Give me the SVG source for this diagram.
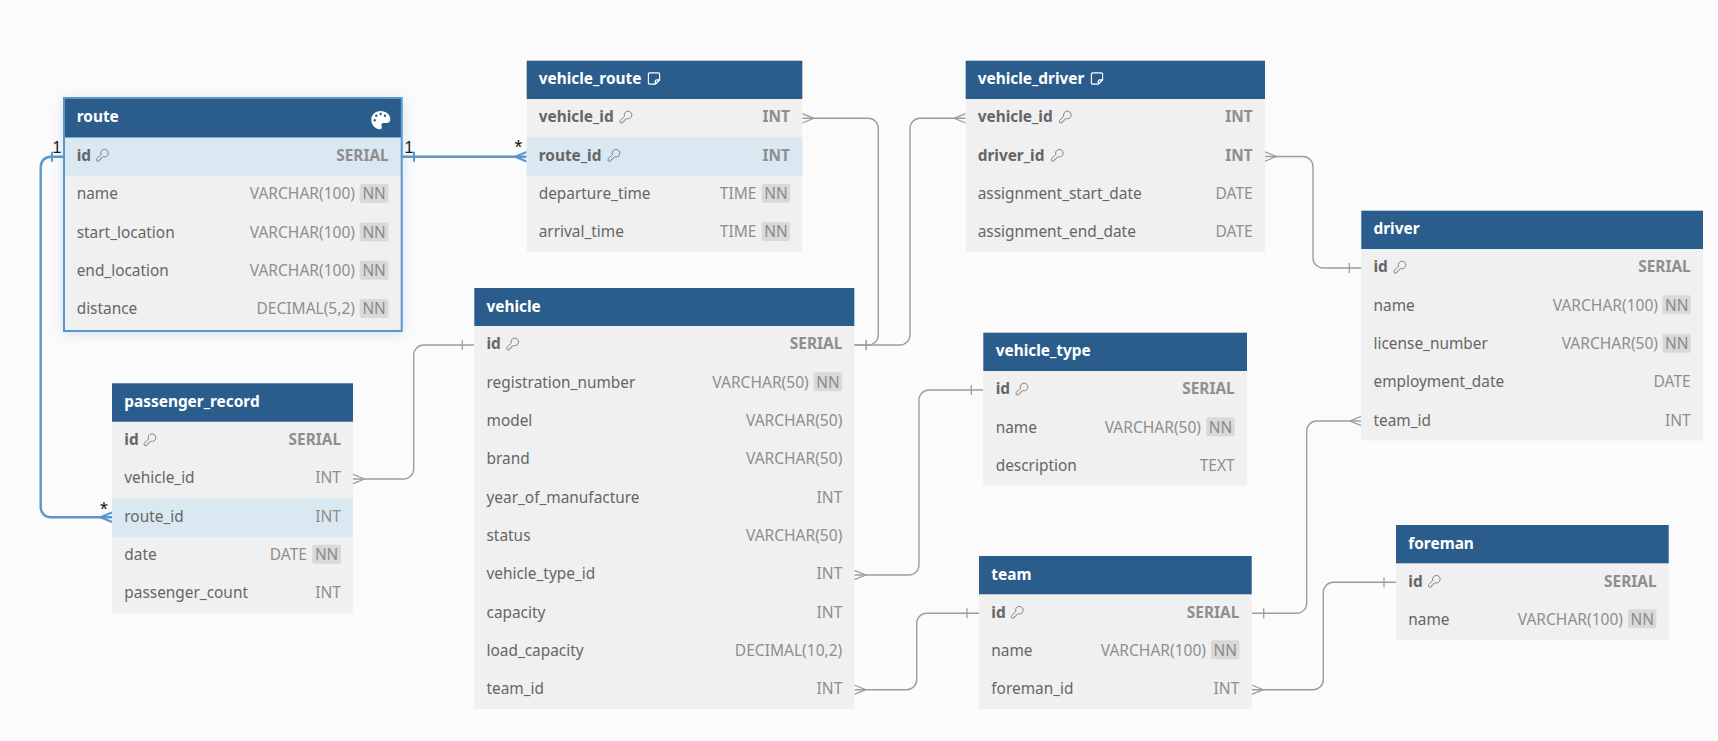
<svg xmlns="http://www.w3.org/2000/svg" width="1718" height="741" viewBox="0 0 1718 741">
<style>
text{font-family:"Noto Sans","Open Sans","Liberation Sans",sans-serif;font-size:15.4px}
.bg{fill:#fbfbfb}
.b{fill:#f0f0f0}
.h{fill:#2a5d8c}
.hl{fill:#d9e8f1}
.ti{fill:#fff;font-weight:700}
.n{fill:#666}
.k{fill:#666;font-weight:700}
.t{fill:#8e8e8e;text-anchor:end;font-size:15.55px}
.tk{fill:#8e8e8e;font-weight:700;text-anchor:end}
.nn{fill:#d9d9d9}
.nt{fill:#8a8a8a;text-anchor:middle}
.c{fill:none;stroke:#9c9ca8;stroke-width:1.4}
.cb{fill:none;stroke:#5b96cc;stroke-width:2.4}
.lb{fill:#111;font-family:"Liberation Sans",sans-serif;font-size:16px}
.st{font-size:20px}
</style>
<defs>
<filter id="glow" x="-15%" y="-20%" width="130%" height="140%"><feDropShadow dx="0" dy="2" stdDeviation="7" flood-color="#5b96cc" flood-opacity=".3"/></filter>
<marker id="crow" markerUnits="userSpaceOnUse" viewBox="-2 -8 18 16" markerWidth="18" markerHeight="16" refX="0" refY="0" orient="auto"><path d="M0-4.7L11.500 0L0 4.700" fill="none" stroke="#9c9ca8" stroke-width="1.3"/></marker>
<marker id="tick" markerUnits="userSpaceOnUse" viewBox="-16 -8 18 16" markerWidth="18" markerHeight="16" refX="0" refY="0" orient="auto"><path d="M-12-5V5" fill="none" stroke="#9c9ca8" stroke-width="1.3"/></marker>
<marker id="crowb" markerUnits="userSpaceOnUse" viewBox="-2 -8 18 16" markerWidth="18" markerHeight="16" refX="0" refY="0" orient="auto"><path d="M0-4.7L11.500 0L0 4.700" fill="none" stroke="#5b96cc" stroke-width="2.2"/></marker>
<marker id="tickb" markerUnits="userSpaceOnUse" viewBox="-16 -8 18 16" markerWidth="18" markerHeight="16" refX="0" refY="0" orient="auto"><path d="M-12-5V5" fill="none" stroke="#5b96cc" stroke-width="2"/></marker>
<symbol id="key" viewBox="0 0 24 24" width="14" height="14"><path d="M2.586 17.414A2 2 0 0 0 2 18.828V21a1 1 0 0 0 1 1h3a1 1 0 0 0 1-1v-1a1 1 0 0 1 1-1h1a1 1 0 0 0 1-1v-1a1 1 0 0 1 1-1h.172a2 2 0 0 0 1.414-.586l.814-.814a6.500 6.500 0 1 0-4-4z" fill="none" stroke="#6e6e6e" stroke-width="1.45" stroke-linejoin="round"/></symbol>
<symbol id="note" viewBox="0 0 13 13" width="13" height="13"><path d="M2.500.8H10.500A1.700 1.700 0 0 1 12.200 2.500V7.800L7.800 12.200H2.500A1.700 1.700 0 0 1 .8 10.500V2.500A1.700 1.700 0 0 1 2.500 .8ZM12 7.800H9.500A1.700 1.700 0 0 0 7.800 9.500V12" fill="none" stroke="#fff" stroke-width="1.3" stroke-linejoin="round"/></symbol>
</defs>
<rect class="bg" width="1718" height="741"/>

<g id="connectors">
<path class="c" marker-start="url(#crow)" marker-end="url(#tick)" d="M802.300 118.300H868.300a10 10 0 0 1 10 10V335a10 10 0 0 1-10 10H854.300"/>
<path class="c" marker-start="url(#crow)" marker-end="url(#tick)" d="M965.700 118.300H920a10 10 0 0 0-10 10V335a10 10 0 0 1-10 10H854.300"/>
<path class="c" marker-start="url(#crow)" marker-end="url(#tick)" d="M1265 156.500H1303a10 10 0 0 1 10 10V258a10 10 0 0 0 10 10H1361.300"/>
<path class="c" marker-start="url(#crow)" marker-end="url(#tick)" d="M1361.300 421H1316.700a10 10 0 0 0-10 10V603.300a10 10 0 0 1-10 10H1251.700"/>
<path class="c" marker-start="url(#crow)" marker-end="url(#tick)" d="M854.300 689.700H906.700a10 10 0 0 0 10-10V623.300a10 10 0 0 1 10-10H979"/>
<path class="c" marker-start="url(#crow)" marker-end="url(#tick)" d="M854.300 575H909a10 10 0 0 0 10-10V400a10 10 0 0 1 10-10H983.300"/>
<path class="c" marker-start="url(#crow)" marker-end="url(#tick)" d="M353 479H403.700a10 10 0 0 0 10-10V355a10 10 0 0 1 10-10H474.300"/>
<path class="c" marker-start="url(#crow)" marker-end="url(#tick)" d="M1251.700 689.700H1313.300a10 10 0 0 0 10-10V592.300a10 10 0 0 1 10-10H1396"/>
<path class="cb" marker-start="url(#crowb)" marker-end="url(#tickb)" d="M112 517.300H50.700a10 10 0 0 1-10-10V166.700a10 10 0 0 1 10-10H64"/>
<path class="cb" marker-start="url(#crowb)" marker-end="url(#tickb)" d="M526.700 156.700H402"/>
<text class="lb" x="52.500" y="153.300">1</text>
<text class="lb" x="404.500" y="153.300">1</text>
<text class="lb st" x="514.500" y="154.300">*</text>
<text class="lb st" x="100" y="516">*</text>
</g>

<g id="route">
<rect x="64" y="98" width="337.700" height="233" fill="#f0f0f0" filter="url(#glow)"/>
<rect class="h" x="64" y="98" width="337.700" height="39.700"/>
<rect class="hl" x="64" y="137.700" width="337.700" height="38.300"/>
<rect x="64" y="98" width="337.700" height="233" fill="none" stroke="#5b96cc" stroke-width="2"/>
<text class="ti" x="76.700" y="122.300">route</text>
<path fill="#fff" d="M380.500 111c-5.500 0-9.200 4-9.200 9c0 5 4 9.200 8.500 9.200c2 0 2.500-1.500 1.800-3c-.8-1.800.3-3.200 2-3.200h3c2.200 0 3.700-1.300 3.700-3.500c0-5-4.300-8.500-9.800-8.500z"/>
<circle class="h" cx="376.300" cy="115.700" r="1.200"/><circle class="h" cx="380.700" cy="114" r="1.200"/><circle class="h" cx="385" cy="115.700" r="1.200"/><circle class="h" cx="374.700" cy="120.300" r="1.200"/>
<text class="k" x="76.700" y="161">id</text><use href="#key" x="95.500" y="148.200"/><text class="tk" x="388.700" y="161">SERIAL</text>
<text class="n" x="76.700" y="199.300">name</text><text class="t" x="355" y="199.300">VARCHAR(100)</text><rect class="nn" x="359.700" y="184" width="28.800" height="19" rx="2"/><text class="nt" x="374.100" y="199.300">NN</text>
<text class="n" x="76.700" y="237.700">start_location</text><text class="t" x="355" y="237.700">VARCHAR(100)</text><rect class="nn" x="359.700" y="222.400" width="28.800" height="19" rx="2"/><text class="nt" x="374.100" y="237.700">NN</text>
<text class="n" x="76.700" y="276">end_location</text><text class="t" x="355" y="276">VARCHAR(100)</text><rect class="nn" x="359.700" y="260.700" width="28.800" height="19" rx="2"/><text class="nt" x="374.100" y="276">NN</text>
<text class="n" x="76.700" y="314.300">distance</text><text class="t" x="355" y="314.300">DECIMAL(5,2)</text><rect class="nn" x="359.700" y="299" width="28.800" height="19" rx="2"/><text class="nt" x="374.100" y="314.300">NN</text>
</g>

<g id="vehicle_route">
<rect class="b" x="526.700" y="60.700" width="275.600" height="191.300"/>
<rect class="h" x="526.700" y="60.700" width="275.600" height="38.300"/>
<rect class="hl" x="526.700" y="137.300" width="275.600" height="38.300"/>
<text class="ti" x="538.700" y="84">vehicle_route</text><use href="#note" x="647.500" y="72"/>
<text class="k" x="538.700" y="122.300">vehicle_id</text><use href="#key" x="619" y="110"/><text class="tk" x="790" y="122.300">INT</text>
<text class="k" x="538.700" y="160.700">route_id</text><use href="#key" x="607" y="148.300"/><text class="tk" x="790" y="160.700">INT</text>
<text class="n" x="538.700" y="199">departure_time</text><text class="t" x="756.500" y="199">TIME</text><rect class="nn" x="761.700" y="183.700" width="28.400" height="19" rx="2"/><text class="nt" x="775.900" y="199">NN</text>
<text class="n" x="538.700" y="237.300">arrival_time</text><text class="t" x="756.500" y="237.300">TIME</text><rect class="nn" x="761.700" y="222" width="28.400" height="19" rx="2"/><text class="nt" x="775.900" y="237.300">NN</text>
</g>

<g id="vehicle_driver">
<rect class="b" x="965.700" y="60.700" width="299.300" height="191.300"/>
<rect class="h" x="965.700" y="60.700" width="299.300" height="38.300"/>
<text class="ti" x="977.700" y="84">vehicle_driver</text><use href="#note" x="1090.500" y="72"/>
<text class="k" x="977.700" y="122.300">vehicle_id</text><use href="#key" x="1058.300" y="110"/><text class="tk" x="1252.700" y="122.300">INT</text>
<text class="k" x="977.700" y="160.700">driver_id</text><use href="#key" x="1050.300" y="148.300"/><text class="tk" x="1252.700" y="160.700">INT</text>
<text class="n" x="977.700" y="199">assignment_start_date</text><text class="t" x="1252.700" y="199">DATE</text>
<text class="n" x="977.700" y="237.300">assignment_end_date</text><text class="t" x="1252.700" y="237.300">DATE</text>
</g>

<g id="driver">
<rect class="b" x="1361.300" y="210.700" width="341.700" height="229.800"/>
<rect class="h" x="1361.300" y="210.700" width="341.700" height="38.300"/>
<text class="ti" x="1373.500" y="234">driver</text>
<text class="k" x="1373.500" y="272.300">id</text><use href="#key" x="1393" y="260"/><text class="tk" x="1690.700" y="272.300">SERIAL</text>
<text class="n" x="1373.500" y="310.700">name</text><text class="t" x="1658" y="310.700">VARCHAR(100)</text><rect class="nn" x="1662.500" y="295.300" width="28.400" height="19" rx="2"/><text class="nt" x="1676.700" y="310.700">NN</text>
<text class="n" x="1373.500" y="349">license_number</text><text class="t" x="1658" y="349">VARCHAR(50)</text><rect class="nn" x="1662.500" y="333.700" width="28.400" height="19" rx="2"/><text class="nt" x="1676.700" y="349">NN</text>
<text class="n" x="1373.500" y="387.300">employment_date</text><text class="t" x="1690.700" y="387.300">DATE</text>
<text class="n" x="1373.500" y="425.700">team_id</text><text class="t" x="1690.700" y="425.700">INT</text>
</g>

<g id="vehicle">
<rect class="b" x="474.300" y="288" width="380" height="421"/>
<rect class="h" x="474.300" y="288" width="380" height="38"/>
<text class="ti" x="486.500" y="311.500">vehicle</text>
<text class="k" x="486.500" y="349.300">id</text><use href="#key" x="505.700" y="337"/><text class="tk" x="842.300" y="349.300">SERIAL</text>
<text class="n" x="486.500" y="387.700">registration_number</text><text class="t" x="808.700" y="387.700">VARCHAR(50)</text><rect class="nn" x="813.700" y="372.300" width="28.400" height="19" rx="2"/><text class="nt" x="827.900" y="387.700">NN</text>
<text class="n" x="486.500" y="426">model</text><text class="t" x="842.300" y="426">VARCHAR(50)</text>
<text class="n" x="486.500" y="464.300">brand</text><text class="t" x="842.300" y="464.300">VARCHAR(50)</text>
<text class="n" x="486.500" y="502.700">year_of_manufacture</text><text class="t" x="842.300" y="502.700">INT</text>
<text class="n" x="486.500" y="541">status</text><text class="t" x="842.300" y="541">VARCHAR(50)</text>
<text class="n" x="486.500" y="579.300">vehicle_type_id</text><text class="t" x="842.300" y="579.300">INT</text>
<text class="n" x="486.500" y="617.700">capacity</text><text class="t" x="842.300" y="617.700">INT</text>
<text class="n" x="486.500" y="656">load_capacity</text><text class="t" x="842.300" y="656">DECIMAL(10,2)</text>
<text class="n" x="486.500" y="694.300">team_id</text><text class="t" x="842.300" y="694.300">INT</text>
</g>

<g id="passenger_record">
<rect class="b" x="112" y="383.300" width="241" height="230"/>
<rect class="h" x="112" y="383.300" width="241" height="38.400"/>
<rect class="hl" x="112" y="498.300" width="241" height="38.400"/>
<text class="ti" x="124.300" y="406.700">passenger_record</text>
<text class="k" x="124.300" y="445">id</text><use href="#key" x="143" y="432.700"/><text class="tk" x="341" y="445">SERIAL</text>
<text class="n" x="124.300" y="483.300">vehicle_id</text><text class="t" x="341" y="483.300">INT</text>
<text class="n" x="124.300" y="521.700">route_id</text><text class="t" x="341" y="521.700">INT</text>
<text class="n" x="124.300" y="560">date</text><text class="t" x="307" y="560">DATE</text><rect class="nn" x="312.300" y="544.700" width="28.700" height="19" rx="2"/><text class="nt" x="326.600" y="560">NN</text>
<text class="n" x="124.300" y="598.300">passenger_count</text><text class="t" x="341" y="598.300">INT</text>
</g>

<g id="vehicle_type">
<rect class="b" x="983.300" y="332.700" width="263.700" height="153"/>
<rect class="h" x="983.300" y="332.700" width="263.700" height="38.300"/>
<text class="ti" x="995.700" y="356">vehicle_type</text>
<text class="k" x="995.700" y="394.300">id</text><use href="#key" x="1015" y="382"/><text class="tk" x="1234.700" y="394.300">SERIAL</text>
<text class="n" x="995.700" y="432.700">name</text><text class="t" x="1201" y="432.700">VARCHAR(50)</text><rect class="nn" x="1206.300" y="417.300" width="28.400" height="19" rx="2"/><text class="nt" x="1220.500" y="432.700">NN</text>
<text class="n" x="995.700" y="471">description</text><text class="t" x="1234.700" y="471">TEXT</text>
</g>

<g id="team">
<rect class="b" x="979" y="556" width="272.700" height="153"/>
<rect class="h" x="979" y="556" width="272.700" height="38.300"/>
<text class="ti" x="991.300" y="579.500">team</text>
<text class="k" x="991.300" y="617.700">id</text><use href="#key" x="1010.300" y="605.300"/><text class="tk" x="1239.300" y="617.700">SERIAL</text>
<text class="n" x="991.300" y="656">name</text><text class="t" x="1206" y="656">VARCHAR(100)</text><rect class="nn" x="1211" y="640.300" width="28.400" height="19" rx="2"/><text class="nt" x="1225.200" y="656">NN</text>
<text class="n" x="991.300" y="694.300">foreman_id</text><text class="t" x="1239.300" y="694.300">INT</text>
</g>

<g id="foreman">
<rect class="b" x="1396" y="525" width="272.700" height="115"/>
<rect class="h" x="1396" y="525" width="272.700" height="38.300"/>
<text class="ti" x="1408.300" y="548.500">foreman</text>
<text class="k" x="1408.300" y="586.700">id</text><use href="#key" x="1427.300" y="574.300"/><text class="tk" x="1656.500" y="586.700">SERIAL</text>
<text class="n" x="1408.300" y="625">name</text><text class="t" x="1623" y="625">VARCHAR(100)</text><rect class="nn" x="1628" y="609.300" width="28.400" height="19" rx="2"/><text class="nt" x="1642.200" y="625">NN</text>
</g>
</svg>
